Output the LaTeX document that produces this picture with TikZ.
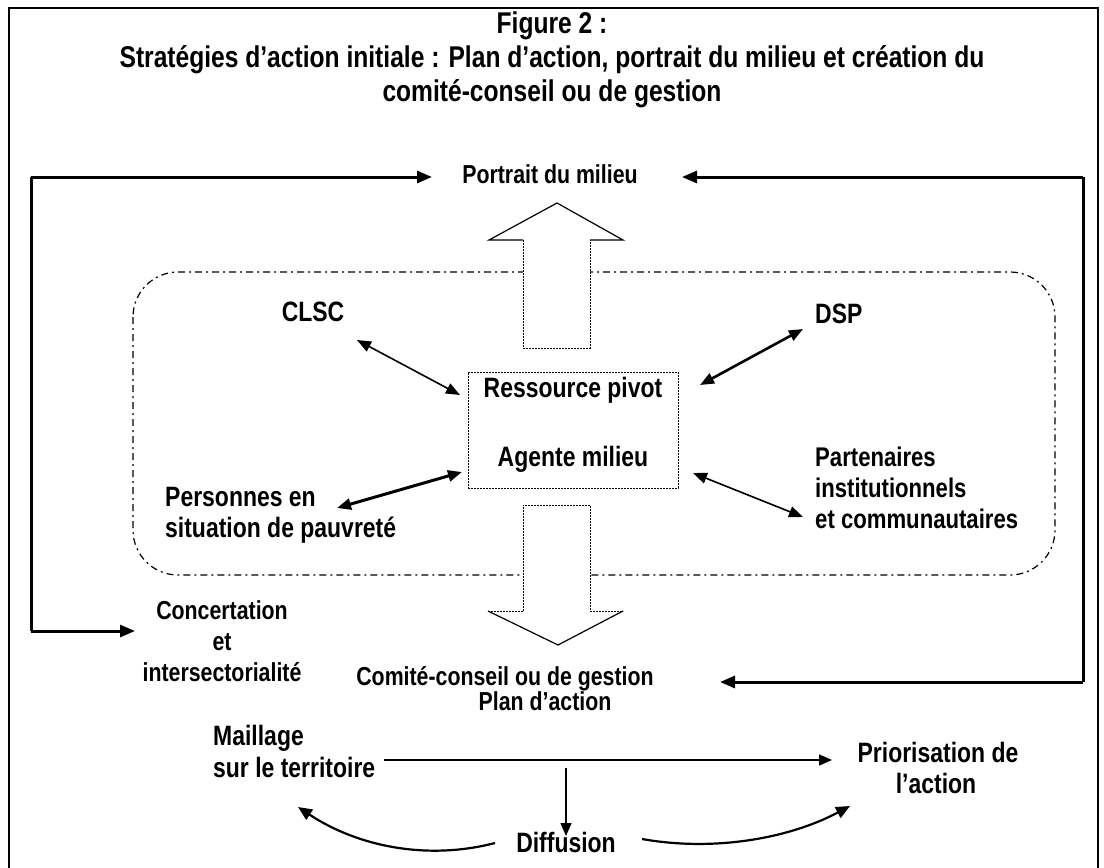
\documentclass[tikz,border=0pt]{standalone}
\usepackage{fontspec}
\setmainfont{Liberation Sans}
\newfontfamily\nf{Liberation Sans}[FakeStretch=0.82]
\usetikzlibrary{arrows.meta}
\begin{document}
\begin{tikzpicture}[x=1pt,y=-1pt,
  lbl/.style={inner sep=0pt, anchor=mid, font=\nf\bfseries\fontsize{28}{32}\selectfont},
  lblw/.style={lbl, anchor=mid west},
  mid26/.style={font=\nf\bfseries\fontsize{26}{30}\selectfont},
  part/.style={font=\nf\bfseries\fontsize{27}{30}\selectfont},
  titlestyle/.style={inner sep=0pt, align=center, font=\nf\bfseries\fontsize{30}{34}\selectfont},
  outer/.style={line width=3pt, -{Triangle[length=15pt,width=12pt]}},
  link/.style={line width=1.6pt, {Triangle[length=14pt,width=11pt]}-{Triangle[length=14pt,width=11pt]}},
  linkb/.style={link, line width=2.6pt},
  thin/.style={line width=1.5pt, -{Triangle[length=13pt,width=11pt]}},
  curved/.style={line width=2.2pt, -{Triangle[length=14pt,width=12pt]}},
  dotline/.style={line width=1pt, dash pattern=on 2pt off 1pt},
  dashdot/.style={line width=1.2pt, dash pattern=on 7pt off 4pt on 2pt off 4pt}
]
\useasboundingbox (0,0) rectangle (1104,868);
\fill[white] (0,0) rectangle (1104,868);

% outer frame
\draw[line width=2pt] (9,868) -- (9,8) -- (1098,8) -- (1098,868);

% title
\node[titlestyle] (title) at (552,60) {Figure 2 :\\Stratégies d’action initiale : Plan d’action, portrait du milieu et création du\\comité-conseil ou de gestion};

% dash-dot rounded region
\draw[dashdot, rounded corners=45pt] (133,272) rectangle (1055,575);

% big up arrow
\fill[white] (523,240) rectangle (590,348);
\draw[dotline] (523,240) -- (523,348) -- (590,348) -- (590,240);
\draw[line width=1.2pt, fill=white] (523,240) -- (489,240) -- (557,203) -- (623,240) -- (590,240);

% big down arrow
\fill[white] (523,505) rectangle (590,611);
\draw[dotline] (523,611) -- (523,505) -- (590,505) -- (590,611);
\draw[dotline] (523,611) -- (488,611);
\draw[dotline] (590,611) -- (623,611);
\draw[line width=1.2pt] (488,611) -- (558,645) -- (623,611);

% center box
\node[draw, dotline, minimum width=210pt, minimum height=116pt, inner sep=0pt] (box) at (573,430) {};
\node[lbl] (ress) at (573,395) {Ressource pivot};
\node[lbl] (agent) at (573,464) {Agente milieu};

% labels
\node[lbl, font=\nf\bfseries\fontsize{26}{30}\selectfont] (portrait) at (550,181) {Portrait du milieu};
\node[lbl] (clsc) at (313,319) {CLSC};
\node[lblw] (dsp) at (815,321) {DSP};
\node[lblw, part] (part1) at (815,464) {Partenaires};
\node[lblw, part] (part2) at (815,495) {institutionnels};
\node[lblw, part] (part3) at (815,526) {et communautaires};
\node[lblw] (pers1) at (165,504) {Personnes en};
\node[lblw] (pers2) at (165,535) {situation de pauvreté};
\node[lbl, mid26] (conc1) at (222,617) {Concertation};
\node[lbl, mid26] (conc2) at (222,648) {et};
\node[lbl, mid26] (conc3) at (222,679) {intersectorialité};
\node[lbl, mid26] (comite) at (505,683) {Comité-conseil ou de gestion};
\node[lbl, mid26] (plan) at (545,708) {Plan d’action};
\node[lblw] (mail1) at (213,743) {Maillage};
\node[lblw] (mail2) at (213,775) {sur le territoire};
\node[lbl] (prio1) at (938,760) {Priorisation de};
\node[lbl] (prio2) at (936,791) {l’action};
\node[lbl] (diff) at (566,850) {Diffusion};

% outer connectors
\coordinate (tl) at (31,177);
\coordinate (bl) at (31,631);
\coordinate (tr) at (1083,177);
\coordinate (br) at (1083,682);
\draw[line width=3pt] (bl) -- (tl);
\draw[line width=3pt] (br) -- (tr);
\draw[outer] (tl) -- (432,177);
\draw[outer] (tr) -- (682,177);
\draw[outer] (bl) -- (135,631);
\draw[outer] (br) -- (720,682);

% center links
\coordinate (c1) at (357,340); \coordinate (c2) at (460,395);
\coordinate (d1) at (700,385); \coordinate (d2) at (803,329);
\coordinate (p1) at (337,508); \coordinate (p2) at (462,472);
\coordinate (q1) at (693,473); \coordinate (q2) at (803,517);
\draw[link] (c1) -- (c2);
\draw[linkb] (d1) -- (d2);
\draw[linkb, line width=3pt] (p1) -- (p2);
\draw[link] (q1) -- (q2);

% bottom connectors
\coordinate (hs) at (384,760);
\coordinate (he) at (832,760);
\draw[thin] (hs) -- (he);
\coordinate (vs) at (566,768);
\draw[thin] (vs) -- (566,836);
\coordinate (cl0) at (495,843);
\coordinate (cl1) at (298,807);
\draw[curved] (cl0) .. controls (430,860) and (360,848) .. (cl1);
\coordinate (cr0) at (642,839);
\coordinate (cr1) at (850,806);
\draw[curved] (cr0) .. controls (715,852) and (790,838) .. (cr1);
\end{tikzpicture}
\end{document}
